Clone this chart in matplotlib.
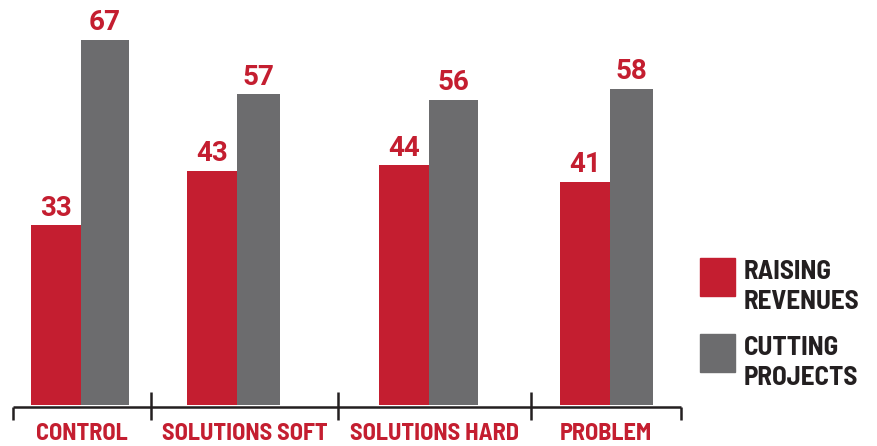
import matplotlib.pyplot as plt
from matplotlib.patches import Rectangle

categories = ["CONTROL", "SOLUTIONS SOFT", "SOLUTIONS HARD", "PROBLEM"]
raising = [33, 43, 44, 41]
cutting = [67, 57, 56, 58]
legend_labels = [["RAISING", "REVENUES"], ["CUTTING", "PROJECTS"]]

RED = "#C41E30"
GRAY = "#6C6C6E"
DARK = "#231F20"

W, H = 877, 446
px_per_unit = 5.45
base_px = 405  # pixel row of value 0

fig = plt.figure(figsize=(W / 100, H / 100), dpi=100)
ax = fig.add_axes([0, 0, 1, 1])
ax.set_xlim(0, W)
ax.set_ylim(-(H - base_px) / px_per_unit, base_px / px_per_unit)
ax.axis("off")

# bar layout (x in pixels)
red_left = [30.7, 186.7, 379.3, 560]
red_w = 50
gray_w = [48.5, 43, 49, 43.3]
gray_left = [l + red_w for l in red_left]
group_edges = [12.5, 151, 338, 531, 681]

ax.bar(red_left, raising, width=red_w, align="edge", color=RED)
ax.bar(gray_left, cutting, width=gray_w, align="edge", color=GRAY)

num_font = dict(family=["Roboto", "DejaVu Sans"], fontweight="bold", fontsize=20, color=RED)
for x, v in zip(red_left, raising):
    ax.annotate(str(v), (x + red_w / 2, v), xytext=(0, 2.5), textcoords="offset points",
                ha="center", va="bottom", **num_font)
for x, w, v in zip(gray_left, gray_w, cutting):
    ax.annotate(str(v), (x + w / 2, v), xytext=(0, 2.5), textcoords="offset points",
                ha="center", va="bottom", **num_font)

# axis line with bracket ticks
u = 1 / px_per_unit
ax.plot([group_edges[0], group_edges[-1]], [-1.5 * u, -1.5 * u], color=DARK, lw=1.8,
        solid_capstyle="butt")
for i, x in enumerate(group_edges):
    top = -1.5 * u if i in (0, len(group_edges) - 1) else 13 * u
    ax.plot([x, x], [top, -15 * u], color=DARK, lw=1.8, solid_capstyle="butt")

cond = ["Barlow Semi Condensed", "DejaVu Sans"]
for i, name in enumerate(categories):
    xc = (group_edges[i] + group_edges[i + 1]) / 2
    ax.text(xc, -35.5 * u, name, ha="center", va="baseline", family=cond,
            fontweight="bold", fontsize=17.5, color=RED)


# legend, drawn in pixel coordinates
def fx(x):
    return x / W


def fy(y):
    return 1 - y / H


for (y0, col, lines) in [(258.3, RED, legend_labels[0]), (334.3, GRAY, legend_labels[1])]:
    fig.patches.append(Rectangle((fx(700), fy(y0 + 38)), 34.5 / W, 38 / H,
                                 transform=fig.transFigure, color=col))
    for k, line in enumerate(lines):
        fig.text(fx(744), fy(y0 + 21 + 30 * k), line, ha="left", va="baseline",
                 family=cond, fontweight="bold", fontsize=19.5, color=DARK)

fig.savefig("out.png", dpi=100)
